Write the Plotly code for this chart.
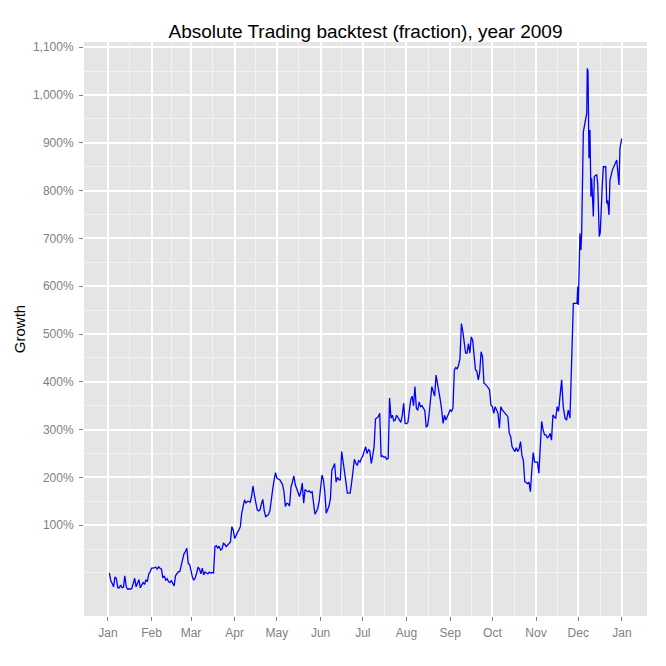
import pandas as pd
import plotly.graph_objects as go

# ---- data (day offset from 2009-01-01, growth in %) ----
day_offsets = [
    1, 2, 3, 4, 5, 6, 7, 8, 9, 10, 11, 12, 13, 14, 15, 16, 17, 18, 19, 20,
    21, 22, 23, 24, 25, 26, 27, 28, 29, 30, 31, 32, 34, 35, 36, 37, 38, 39, 40, 41,
    42, 43, 44, 45, 46, 47, 48, 49, 50, 51, 52, 53, 54, 55, 56, 57, 58, 59, 60, 61,
    62, 63, 64, 65, 66, 67, 68, 69, 70, 71, 72, 73, 74, 75, 76, 77, 78, 79, 80, 81,
    82, 83, 84, 85, 86, 87, 88, 89, 90, 91, 92, 93, 94, 95, 96, 97, 98, 99, 100, 101,
    102, 103, 104, 105, 106, 107, 108, 109, 110, 111, 112, 113, 114, 115, 116, 117, 118, 119, 120, 121,
    122, 123, 124, 125, 126, 127, 128, 129, 130, 131, 132, 133, 134, 135, 136, 137, 138, 139, 140, 141,
    142, 143, 144, 145, 146, 147, 148, 149, 150, 151, 152, 153, 154, 155, 156, 157, 158, 159, 160, 161,
    162, 163, 164, 165, 166, 167, 168, 169, 170, 171, 172, 173, 174, 175, 176, 177, 178, 179, 180, 181,
    182, 183, 184, 185, 186, 187, 188, 189, 190, 191, 192, 193, 194, 195, 196, 197, 198, 199, 200, 201,
    202, 203, 204, 205, 206, 207, 208, 209, 210, 211, 212, 213, 214, 215, 216, 217, 218, 219, 220, 221,
    222, 223, 224, 225, 226, 227, 228, 229, 230, 231, 232, 233, 234, 235, 236, 237, 238, 239, 240, 241,
    242, 243, 244, 245, 246, 247, 248, 249, 250, 251, 252, 253, 254, 255, 256, 257, 258, 259, 260, 261,
    262, 263, 264, 265, 266, 267, 268, 269, 270, 271, 272, 273, 274, 275, 276, 277, 278, 279, 280, 281,
    282, 283, 284, 285, 286, 287, 288, 289, 290, 291, 292, 293, 294, 295, 296, 297, 298, 299, 300, 301,
    302, 303, 304, 305, 306, 307, 308, 309, 310, 311, 312, 313, 314, 315, 316, 317, 318, 319, 320, 321,
    322.2, 323.3, 324.6, 325.7, 326.9, 328.1, 329.3, 330.5, 333.1, 333.6, 334.0, 335.2, 335.9, 336.4,
    337.6, 340.0, 340.4, 340.9, 341.6, 342.3, 343.0, 343.5, 344.7, 345.4, 347.1, 347.8, 348.9, 349.6,
    351.1, 351.8, 353.5, 354.2, 354.9, 355.8, 356.5, 358.2, 361.3, 362.0, 362.9, 363.6, 364.8,
]

growth_pct = [
    0, -16, -22, -29, -8, -12, -31, -31, -25, -31, -30, -6, -29, -34, -33, -34, -32, -20, -11, -29,
    -22, -14, -31, -24, -20, -24, -14, -18, -2, 3, 10, 10, 12, 8, 13, 10, 8, -10, -6, -15,
    -12, -18, -20, -16, -22, -27, -6, -1, 3, 3, 18, 31, 40, 45, 52, 20, 18, 5, -9, -15,
    -10, 0, 12, 8, -2, 10, -4, 2, 0, -2, 2, 0, 1, 0, 55, 57, 52, 56, 48, 50,
    62, 60, 55, 58, 60, 65, 97, 90, 72, 80, 85, 90, 97, 125, 140, 153, 146, 150, 150, 148,
    160, 182, 163, 150, 132, 130, 132, 145, 154, 130, 118, 120, 122, 130, 158, 175, 195, 210, 198, 196,
    195, 190, 185, 170, 139, 146, 145, 140, 180, 190, 203, 185, 175, 170, 160, 170, 188, 146, 175, 172,
    170, 172, 168, 170, 149, 123, 128, 135, 150, 184, 205, 195, 170, 125, 135, 140, 156, 215, 222, 229,
    190, 200, 195, 195, 254, 235, 215, 190, 167, 167, 167, 188, 222, 238, 230, 225, 235, 232, 240, 245,
    255, 264, 250, 258, 255, 229, 245, 264, 322, 325, 327, 334, 243, 245, 242, 243, 238, 240, 366, 324,
    330, 318, 320, 330, 325, 322, 315, 330, 355, 313, 312, 315, 340, 362, 370, 350, 390, 345, 340, 358,
    348, 350, 345, 340, 306, 308, 330, 362, 390, 380, 370, 414, 398, 380, 362, 341, 313, 330, 320, 327,
    335, 341, 338, 345, 425, 430, 427, 435, 449, 522, 505, 480, 460, 460, 480, 460, 494, 487, 460, 425,
    422, 404, 420, 463, 452, 397, 395, 392, 388, 383, 351, 348, 334, 348, 341, 334, 303, 348, 341, 338,
    334, 330, 327, 292, 285, 264, 260, 254, 262, 254, 260, 275, 245, 236, 191, 188, 187, 190, 170, 215,
    252, 232, 232, 232, 209, 271, 317, 300, 289, 289, 283, 285, 292, 278, 331, 326, 324, 348, 338, 369,
    404, 348, 324, 320, 341, 324, 432, 564, 564, 599, 561, 711, 676, 711,
    923, 962, 1056, 1050, 868, 927, 787, 826, 746, 830, 833, 815, 704, 712,
    815, 850, 850, 773, 780, 749, 822, 843, 864, 840, 812, 888, 909,
]

month_labels = ["Jan", "Feb", "Mar", "Apr", "May", "Jun", "Jul",
                "Aug", "Sep", "Oct", "Nov", "Dec", "Jan"]
y_ticks = [100, 200, 300, 400, 500, 600, 700, 800, 900, 1000, 1100]
y_labels = ["100%", "200%", "300%", "400%", "500%", "600%", "700%",
            "800%", "900%", "1,000%", "1,100%"]

# ---- build figure ----
start = pd.Timestamp("2009-01-01")
dates = [start + pd.to_timedelta(d, unit="D") for d in day_offsets]

month_starts = pd.date_range("2009-01-01", "2010-01-01", freq="MS")
mid_months = [month_starts[i] + (month_starts[i + 1] - month_starts[i]) / 2
              for i in range(len(month_starts) - 1)]
y_minor = [0] + [v - 50 for v in y_ticks] + [v for v in y_ticks]

fig = go.Figure()
fig.add_trace(go.Scatter(
    x=dates, y=growth_pct, mode="lines",
    line=dict(color="#0000FF", width=1.3),
    showlegend=False,
))

grey50 = "#7F7F7F"
font_family = "Liberation Sans, Arial, sans-serif"

fig.update_layout(
    width=666, height=666,
    margin=dict(l=84, r=19, t=42, b=50),
    paper_bgcolor="white",
    plot_bgcolor="#E5E5E5",
    font=dict(family=font_family, color=grey50, size=12),
    title=dict(
        text="Absolute Trading backtest (fraction), year 2009",
        x=0.5, xref="paper", xanchor="center",
        y=1 - 31 / 666, yref="container", yanchor="middle",
        font=dict(family=font_family, size=19, color="black"),
    ),
    xaxis=dict(
        type="date",
        range=[start + pd.to_timedelta(-17.0, unit="D"),
               start + pd.to_timedelta(382.8, unit="D")],
        tickvals=list(month_starts), ticktext=month_labels,
        ticks="outside", ticklen=4, tickwidth=1, tickcolor=grey50,
        tickfont=dict(size=12, color=grey50),
        ticklabelstandoff=2,
        showgrid=True, gridcolor="white", gridwidth=1.5,
        zeroline=False, showline=False,
        minor=dict(tickvals=mid_months, showgrid=True,
                   gridcolor="#F2F2F2", gridwidth=0.7, ticks=""),
        fixedrange=True,
    ),
    yaxis=dict(
        range=[-90, 1111],
        tickvals=y_ticks, ticktext=y_labels,
        ticks="outside", ticklen=4, tickwidth=1, tickcolor=grey50,
        tickfont=dict(size=12, color=grey50),
        ticklabelstandoff=3,
        showgrid=True, gridcolor="white", gridwidth=1.5,
        zeroline=False, showline=False,
        minor=dict(tickvals=y_minor, showgrid=True,
                   gridcolor="#F2F2F2", gridwidth=0.7, ticks=""),
        title=dict(text="Growth", font=dict(size=15, color="black"), standoff=3),
        fixedrange=True,
    ),
)

fig.write_html("out.html")
